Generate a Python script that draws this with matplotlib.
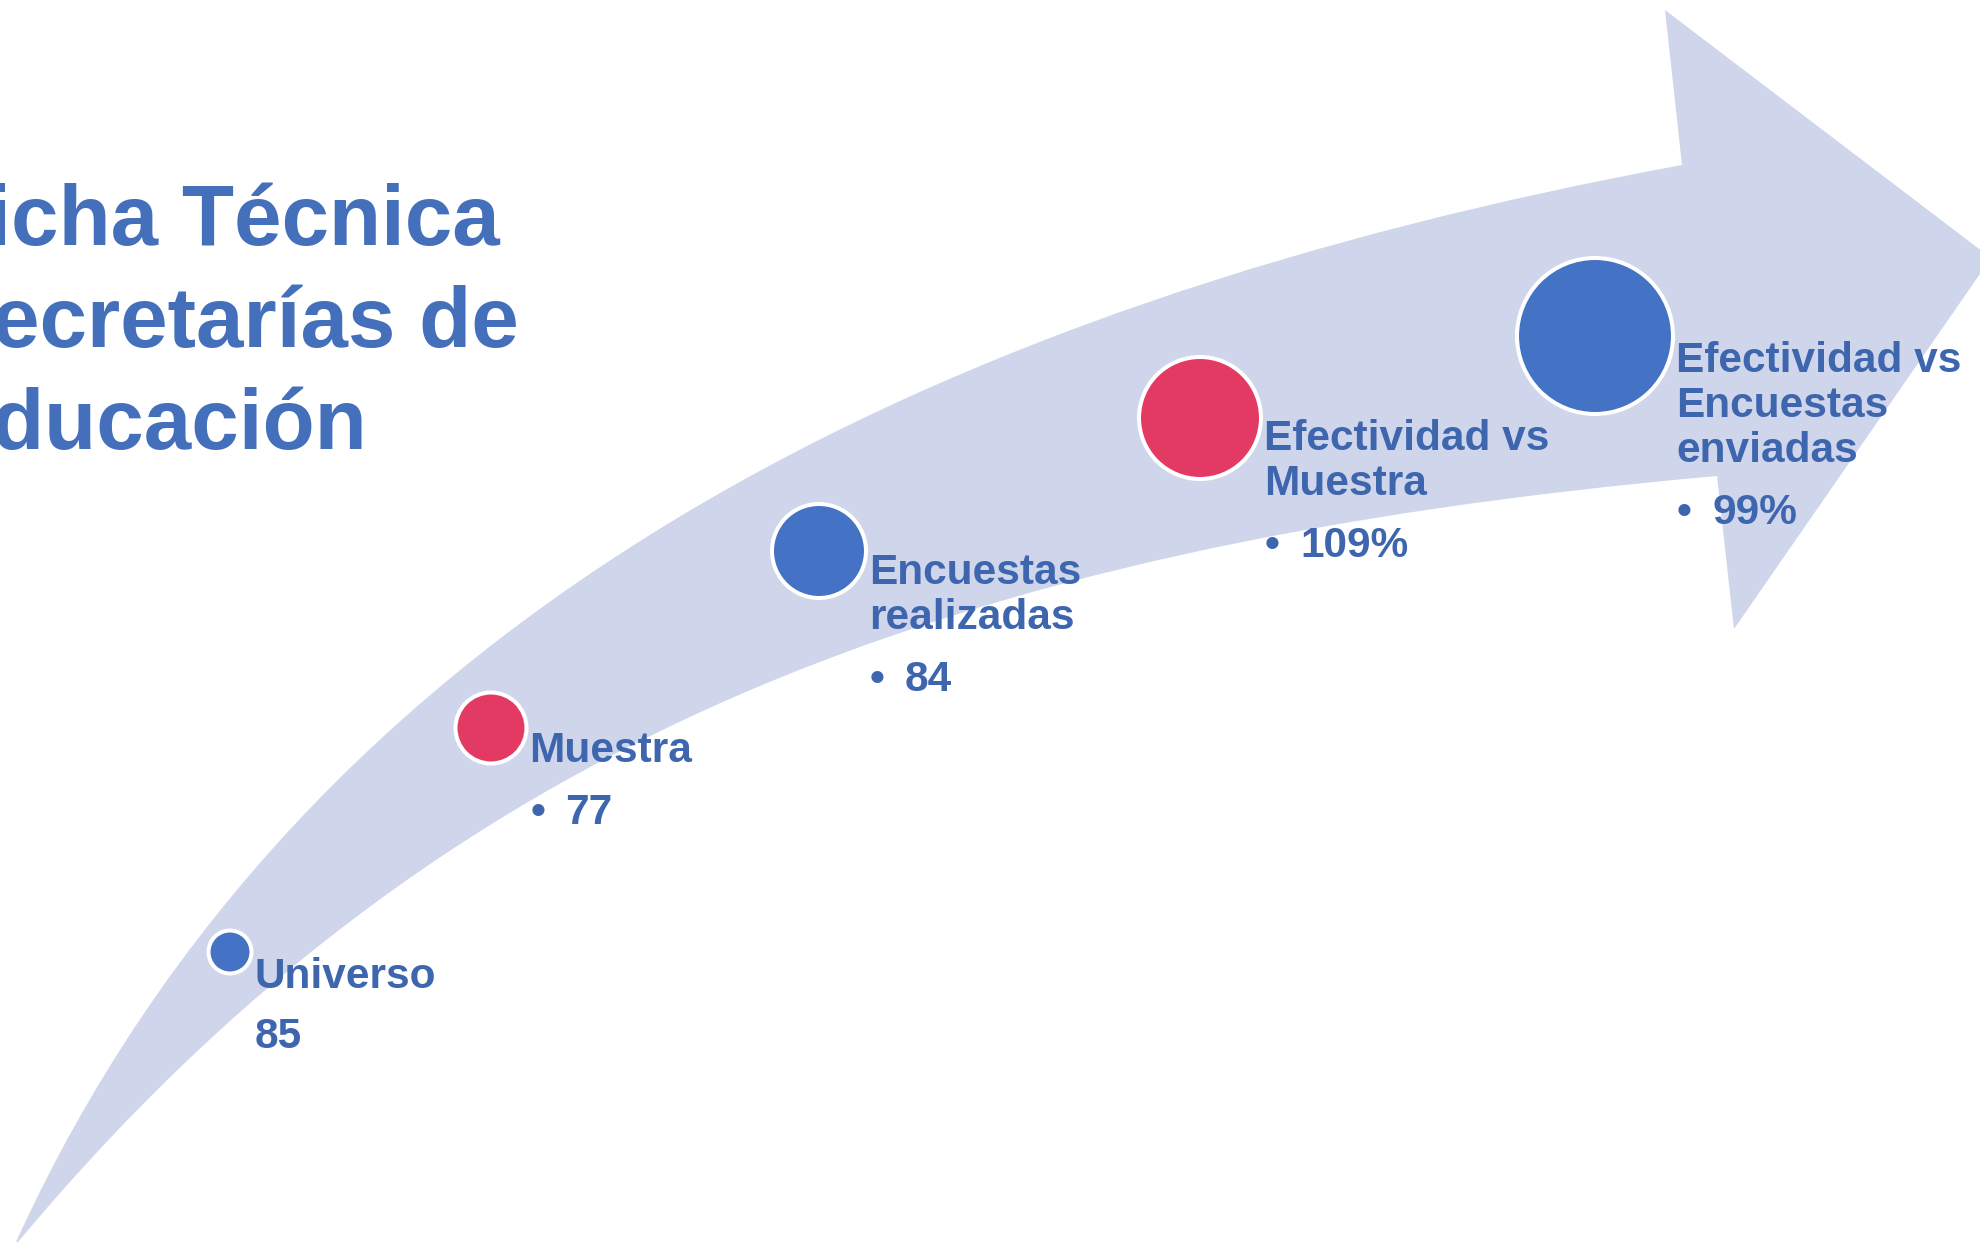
import matplotlib
matplotlib.use("Agg")
import matplotlib.pyplot as plt
from matplotlib.path import Path
from matplotlib.patches import PathPatch, Circle

plt.rcParams['font.family'] = ['Liberation Sans', 'DejaVu Sans']

# ---- content ----
title_lines = ["Ficha Técnica", "Secretarías de", "Educación"]
step_labels = [
    ["Universo"],
    ["Muestra"],
    ["Encuestas", "realizadas"],
    ["Efectividad vs", "Muestra"],
    ["Efectividad vs", "Encuestas", "enviadas"],
]
step_values = ["85", "77", "84", "109%", "99%"]
step_bulleted = [False, True, True, True, True]

# ---- layout (pixel space, y grows downward) ----
W, H = 1980, 1242
node_x = [230, 491, 819, 1200, 1595]
node_y = [952, 728, 551, 418, 336]
node_r = [23.5, 37.5, 49, 63, 80]
node_colors = ["#4472C4", "#E33A64", "#4472C4", "#E33A64", "#4472C4"]
first_baseline = [988, 762, 584, 450, 372]
line_gap = 45
value_gap = 62

band_color = "#CFD5EA"
title_color = "#4470BB"
text_color = "#3E66AE"

fig = plt.figure(figsize=(W / 100, H / 100), dpi=100)
ax = fig.add_axes([0, 0, 1, 1])
ax.set_xlim(0, W)
ax.set_ylim(H, 0)
ax.axis("off")

# curved arrow band: upper edge, arrow head, lower edge back to the tail
upper = [(16, 1242), (306, 605), (945, 301), (1682, 165)]
head = [(1665, 10), (1991, 258), (1734, 629), (1717, 476)]
lower = [(1717, 476), (940, 545), (435, 743), (18, 1242)]
verts = upper + head + lower[1:] + [(16, 1242)]
codes = ([Path.MOVETO] + [Path.CURVE4] * 3 + [Path.LINETO] * 4
         + [Path.CURVE4] * 3 + [Path.CLOSEPOLY])
ax.add_patch(PathPatch(Path(verts, codes), facecolor=band_color,
                       edgecolor="none", zorder=1))

# title block, left-aligned, running past the left edge
title_baselines = [245, 347, 449]
for line, yb in zip(title_lines, title_baselines):
    ax.text(-65, yb, line, fontsize=61.5, fontweight="bold", color=title_color,
            ha="left", va="baseline", zorder=3)

# nodes with labels
label_fs = 30.5
for i in range(len(step_labels)):
    ax.add_patch(Circle((node_x[i], node_y[i]), node_r[i] - 2,
                        facecolor=node_colors[i], edgecolor="white",
                        linewidth=2.9, zorder=2))
    x0 = node_x[i] + node_r[i] + 1
    yb = first_baseline[i]
    for k, line in enumerate(step_labels[i]):
        ax.text(x0, yb + k * line_gap, line, fontsize=label_fs, fontweight="bold",
                color=text_color, ha="left", va="baseline", zorder=3)
    yv = yb + (len(step_labels[i]) - 1) * line_gap + value_gap
    if step_bulleted[i]:
        ax.text(x0 + 1, yv, "\u2022", fontsize=label_fs, fontweight="bold",
                color=text_color, ha="left", va="baseline", zorder=3)
        ax.text(x0 + 36, yv, step_values[i], fontsize=label_fs, fontweight="bold",
                color=text_color, ha="left", va="baseline", zorder=3)
    else:
        ax.text(x0, yv - 2, step_values[i], fontsize=label_fs, fontweight="bold",
                color=text_color, ha="left", va="baseline", zorder=3)

fig.savefig("out.png", dpi=100, facecolor="white")
